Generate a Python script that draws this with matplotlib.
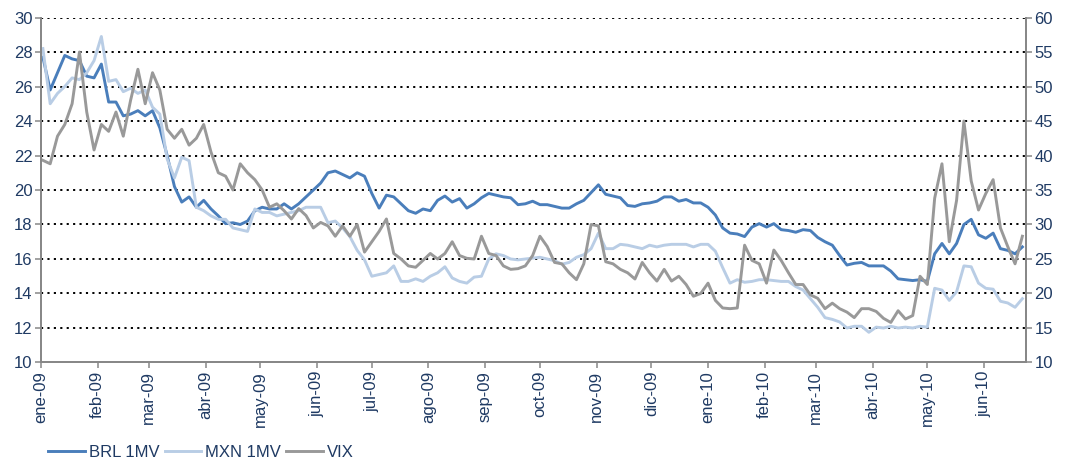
import matplotlib
matplotlib.use("Agg")
import matplotlib.pyplot as plt
import pandas as pd

plt.rcParams['font.family'] = ['Liberation Sans', 'DejaVu Sans']

# one reading every 4 days, 2 Jan 2009 .. 22 Jun 2010
dates = pd.date_range('2009-01-02', periods=135, freq='4D')

brl_1mv = [27.7, 25.8, 26.8, 27.8, 27.6, 27.5, 26.6, 26.5, 27.3, 25.1,
           25.1, 24.3, 24.4, 24.6, 24.3, 24.6, 23.6, 22.0, 20.2, 19.3,
           19.6, 19.0, 19.4, 18.9, 18.5, 18.05, 18.1, 18.0, 18.2, 18.8,
           19.0, 18.9, 18.9, 19.2, 18.9, 19.2, 19.6, 20.0, 20.4, 21.0,
           21.1, 20.9, 20.7, 21.0, 20.8, 19.8, 18.95, 19.7, 19.6, 19.2,
           18.8, 18.65, 18.9, 18.8, 19.4, 19.65, 19.3, 19.5, 18.95, 19.2,
           19.55, 19.8, 19.7, 19.6, 19.55, 19.15, 19.2, 19.35, 19.15, 19.15,
           19.05, 18.95, 18.95, 19.2, 19.4, 19.85, 20.3, 19.75, 19.65, 19.55,
           19.1, 19.05, 19.2, 19.25, 19.35, 19.6, 19.6, 19.35, 19.45, 19.25,
           19.25, 19.0, 18.55, 17.8, 17.5, 17.45, 17.3, 17.85, 18.05, 17.85,
           18.05, 17.7, 17.65, 17.55, 17.7, 17.65, 17.25, 17.0, 16.8, 16.2,
           15.65, 15.75, 15.8, 15.6, 15.6, 15.6, 15.3, 14.85, 14.8, 14.75,
           14.8, 14.7, 16.3, 16.9, 16.3, 16.9, 18.0, 18.3, 17.4, 17.2,
           17.5, 16.6, 16.5, 16.3, 16.7]

mxn_1mv = [28.2, 25.0, 25.6, 26.0, 26.5, 26.4, 26.8, 27.5, 28.9, 26.3,
           26.4, 25.7, 25.9, 25.6, 25.8, 24.8, 24.4, 21.8, 20.7, 21.9,
           21.7, 19.0, 18.8, 18.5, 18.3, 18.3, 17.8, 17.7, 17.6, 18.9,
           18.7, 18.7, 18.5, 18.6, 18.7, 18.8, 19.0, 19.0, 19.0, 18.1,
           18.2, 17.8, 17.3, 16.5, 15.95, 15.0, 15.1, 15.2, 15.6, 14.7,
           14.7, 14.85, 14.7, 15.0, 15.2, 15.55, 14.9, 14.7, 14.6, 14.95,
           15.0, 16.0, 16.3, 16.2, 16.0, 15.95, 16.0, 16.05, 16.1, 16.0,
           15.9, 15.7, 15.8, 16.1, 16.25, 16.6, 17.5, 16.6, 16.6, 16.85,
           16.8, 16.7, 16.6, 16.8, 16.7, 16.8, 16.85, 16.85, 16.85, 16.7,
           16.85, 16.85, 16.45, 15.5, 14.6, 14.8, 14.65, 14.7, 14.8, 14.8,
           14.75, 14.7, 14.7, 14.4, 14.2, 13.7, 13.2, 12.6, 12.5, 12.35,
           12.0, 12.1, 12.1, 11.75, 12.05, 12.0, 12.1, 12.0, 12.05, 12.0,
           12.1, 12.05, 14.3, 14.2, 13.6, 14.1, 15.6, 15.55, 14.6, 14.3,
           14.25, 13.55, 13.45, 13.2, 13.7]

vix = [39.3, 38.8, 42.8, 44.5, 47.5, 55.0, 46.3, 40.8, 44.5, 43.5,
       46.3, 42.8, 48.0, 52.5, 47.5, 52.0, 49.5, 43.8, 42.5, 43.8,
       41.5, 42.5, 44.5, 40.5, 37.5, 37.0, 35.0, 38.8, 37.5, 36.5,
       35.0, 32.5, 33.0, 32.0, 30.8, 32.3, 31.3, 29.5, 30.3, 29.8,
       28.3, 29.8, 28.3, 30.0, 26.0, 27.5, 29.0, 30.8, 25.8, 25.0,
       24.0, 23.8, 24.8, 25.8, 25.0, 25.8, 27.5, 25.5, 25.1, 25.0,
       28.3, 25.8, 25.5, 24.0, 23.5, 23.6, 24.0, 25.5, 28.3, 26.8,
       24.5, 24.3, 23.0, 22.0, 24.3, 30.0, 29.8, 24.6, 24.3, 23.5,
       23.0, 22.1, 24.5, 23.0, 21.8, 23.5, 21.8, 22.5, 21.3, 19.6,
       20.0, 21.5, 19.0, 17.9, 17.8, 17.9, 27.0, 24.8, 24.3, 21.5,
       26.3, 24.8, 23.0, 21.3, 21.3, 19.8, 19.3, 17.8, 18.6, 17.8,
       17.3, 16.5, 17.8, 17.8, 17.4, 16.4, 15.8, 17.5, 16.3, 16.8,
       22.5, 21.3, 33.8, 38.8, 27.5, 33.5, 45.0, 36.3, 32.1, 34.5,
       36.5, 29.5, 26.8, 24.3, 28.3]

month_ticks = pd.date_range('2009-01-01', '2010-06-01', freq='MS')
month_labels = ['ene-09', 'feb-09', 'mar-09', 'abr-09', 'may-09', 'jun-09',
                'jul-09', 'ago-09', 'sep-09', 'oct-09', 'nov-09', 'dic-09',
                'ene-10', 'feb-10', 'mar-10', 'abr-10', 'may-10', 'jun-10']

navy = '#1F3A63'
spine_grey = '#878787'

fig = plt.figure(figsize=(10.69, 4.61), dpi=100)
ax = fig.add_axes([0.0384, 0.2137, 0.9214, 0.7483])
ax2 = ax.twinx()

l1, = ax.plot(dates, brl_1mv, color='#4A7EBB', lw=2.1, label='BRL 1MV')
l2, = ax.plot(dates, mxn_1mv, color='#B9CDE5', lw=2.1, label='MXN 1MV')
l3, = ax2.plot(dates, vix, color='#999999', lw=2.1, label='VIX')

ax.set_xlim(pd.Timestamp('2009-01-01'), pd.Timestamp('2010-06-24'))
ax.set_ylim(10, 30)
ax2.set_ylim(10, 60)
ax.set_yticks(range(10, 31, 2))
ax2.set_yticks(range(10, 61, 5))
ax.set_xticks(month_ticks)
ax.set_xticklabels(month_labels, rotation=90)

for y in range(12, 31, 2):
    ax.axhline(y, color='black', lw=1.4, linestyle=(0, (1.1, 2.2)), zorder=0)

for a in (ax, ax2):
    a.spines['top'].set_visible(False)
    for side in ('left', 'right', 'bottom'):
        a.spines[side].set_color(spine_grey)
        a.spines[side].set_linewidth(1.3)
    a.tick_params(colors=spine_grey, labelcolor=navy, labelsize=12,
                  length=4, width=1.1, direction='out', pad=2)

fig.legend(handles=[l1, l2, l3], loc='lower left',
           bbox_to_anchor=(0.031, -0.03), ncol=3, frameon=False,
           fontsize=12, handlelength=2.2, handletextpad=0.25,
           columnspacing=0.3, labelcolor=navy)

fig.savefig('out.png', dpi=100)
